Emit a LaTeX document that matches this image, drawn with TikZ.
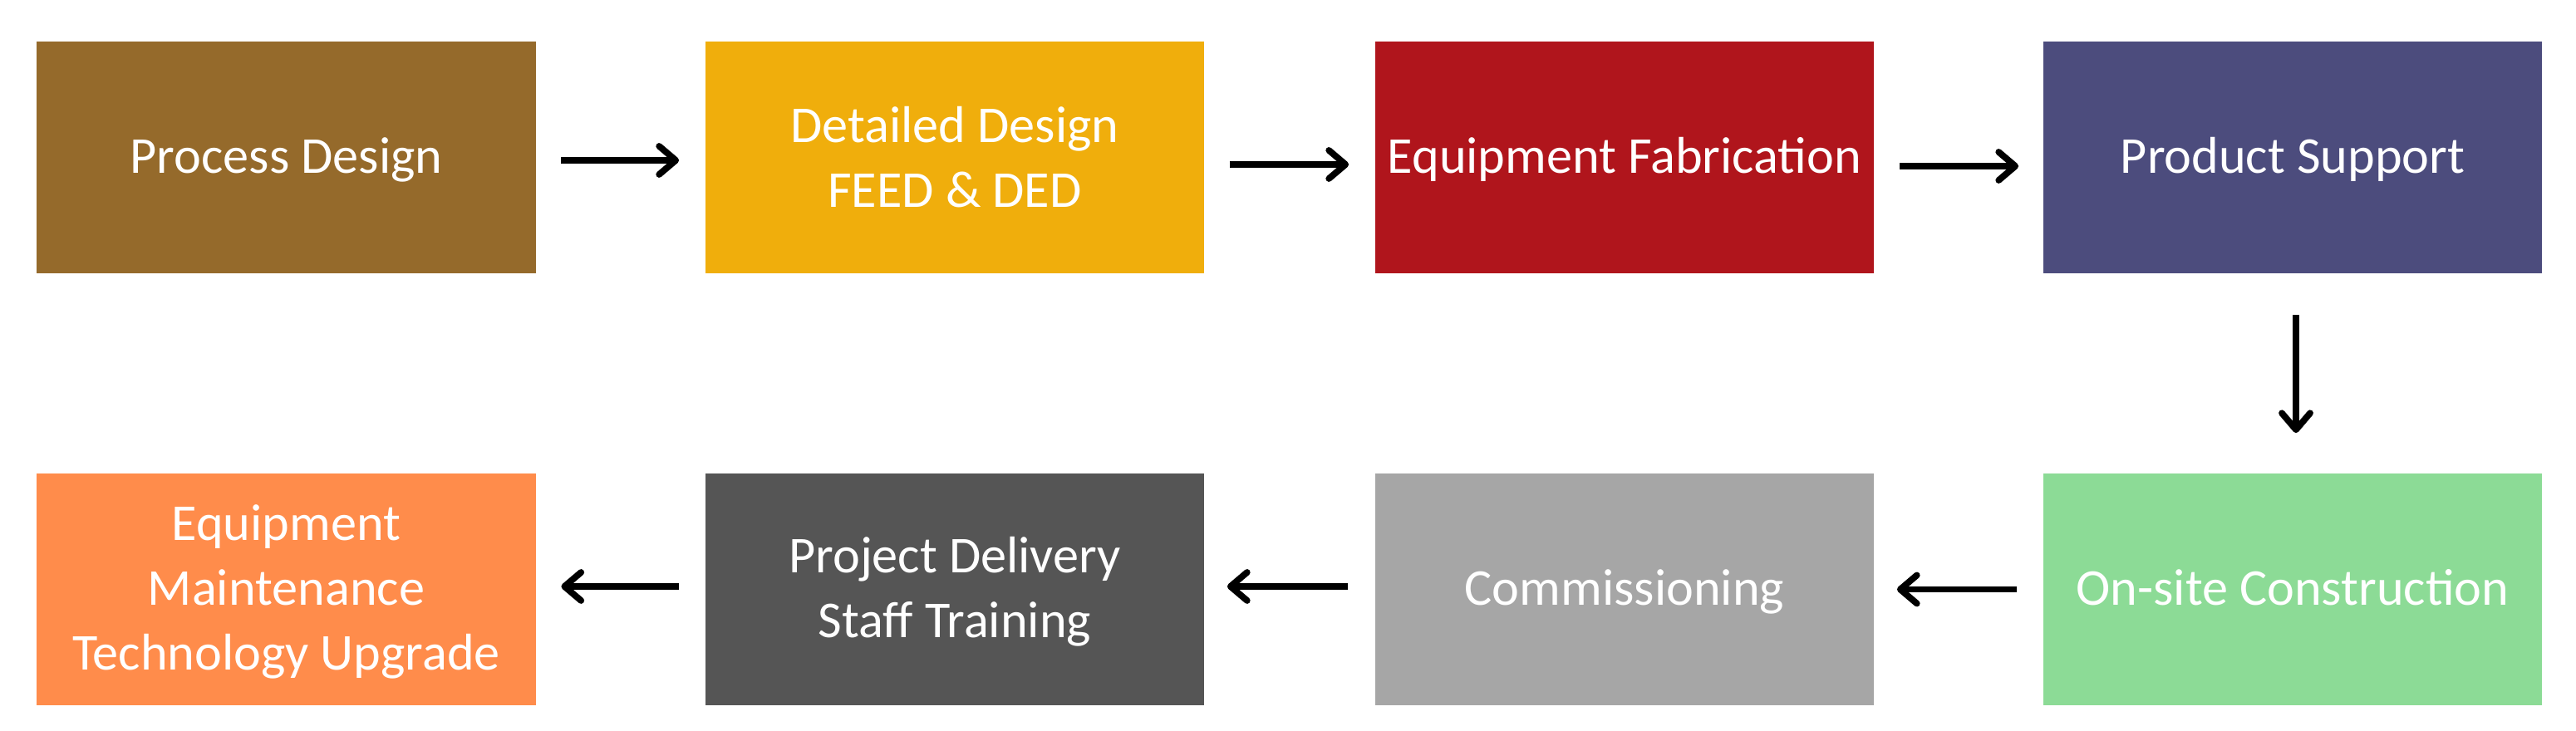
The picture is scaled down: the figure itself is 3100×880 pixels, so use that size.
\documentclass[tikz,border=0pt]{standalone}
\usepackage{fontspec}
\setmainfont{Carlito}
\usetikzlibrary{arrows.meta}
\definecolor{cBrown}{HTML}{956A2B}
\definecolor{cYellow}{HTML}{F0AE0C}
\definecolor{cRed}{HTML}{B0151C}
\definecolor{cPurple}{HTML}{4C4C7D}
\definecolor{cGreen}{HTML}{8CDB96}
\definecolor{cLight}{HTML}{A6A6A6}
\definecolor{cDark}{HTML}{555555}
\definecolor{cOrange}{HTML}{FF8C4B}
\tikzset{
  stagebox/.style={rectangle, inner sep=0pt, minimum width=6cm, minimum height=2.79cm,
    text=white, align=center, font=\fontsize{17.7}{22.2}\selectfont},
  lowtext/.style={text depth=1.5pt},
  flowarrow/.style={line width=2.2pt, draw=black,
    -{Straight Barb[length=2mm, width=3.4mm, line cap=round, line join=round]}}
}
\begin{document}
\begin{tikzpicture}[x=0.01cm, y=-0.01cm]
\fill[white] (0,0) rectangle (3100,880);
\useasboundingbox (0,0) rectangle (3100,880);
% row 1
\node[stagebox, lowtext, fill=cBrown]  (pd)  at (344.5,189.5) {Process Design};
\node[stagebox, fill=cYellow] (dd)  at (1149,189.5) {Detailed Design\\FEED \& DED};
\node[stagebox, lowtext, fill=cRed]    (ef)  at (1955,189.5) {Equipment Fabrication};
\node[stagebox, lowtext, fill=cPurple] (ps)  at (2759,189.5) {Product Support};
% row 2
\node[stagebox, lowtext, fill=cGreen]  (oc)  at (2759,709.5) {On-site Construction};
\node[stagebox, lowtext, fill=cLight]  (cm)  at (1955,709.5) {Commissioning};
\node[stagebox, lowtext, fill=cDark]   (pdl) at (1149,709.5) {Project Delivery\\Staff Training};
\node[stagebox, lowtext, fill=cOrange] (em)  at (344.5,709.5) {Equipment\\Maintenance\\Technology Upgrade};
% connectors
\draw[flowarrow, shorten <=0.3cm, shorten >=0.31cm] ([yshift=-0.035cm]pd.east) -- ([yshift=-0.035cm]dd.west);
\draw[flowarrow, shorten <=0.3cm, shorten >=0.31cm] ([yshift=-0.085cm]dd.east) -- ([yshift=-0.085cm]ef.west);
\draw[flowarrow, shorten <=0.3cm, shorten >=0.29cm] ([yshift=-0.105cm]ef.east) -- ([yshift=-0.105cm]ps.west);
\draw[flowarrow, shorten <=0.49cm, shorten >=0.48cm] ([xshift=0.04cm]ps.south) -- ([xshift=0.04cm]oc.north);
\draw[flowarrow, shorten <=0.31cm, shorten >=0.27cm] (oc.west) -- (cm.east);
\draw[flowarrow, shorten <=0.32cm, shorten >=0.27cm] ([yshift=0.035cm]cm.west) -- ([yshift=0.035cm]pdl.east);
\draw[flowarrow, shorten <=0.31cm, shorten >=0.3cm] ([yshift=0.035cm]pdl.west) -- ([yshift=0.035cm]em.east);
\end{tikzpicture}
\end{document}
